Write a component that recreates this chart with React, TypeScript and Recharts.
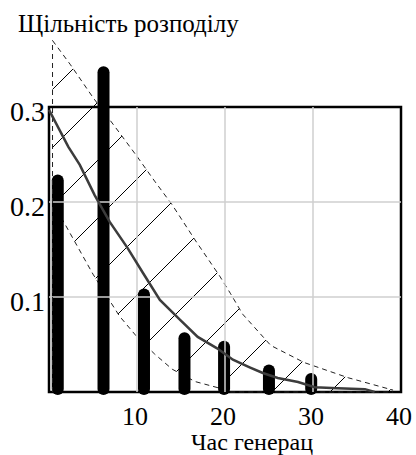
import React from "react";
import {
  ComposedChart,
  XAxis,
  YAxis,
  Bar,
  Line,
  Area,
  ReferenceLine,
  ReferenceArea,
} from "recharts";

const FONT = "Liberation Serif, DejaVu Serif, Times New Roman, serif";
const STICK_W = 12;

const xTicks = [10, 20, 30, 40];
const yTicks = [0.1, 0.2, 0.3];
const gridX = [10, 20, 30];
const gridY = [0.1, 0.2];

// histogram sticks
const barX = [1, 6.2, 10.8, 15.4, 19.9, 25, 29.8];
const barValues = [0.229, 0.343, 0.109, 0.063, 0.054, 0.029, 0.02];

// fitted density curve
const curveX = [0, 2.2, 3.5, 5.2, 6.9, 8.9, 10.7, 12.6, 14.9, 16.9, 19.1, 20.9, 22.8, 24.3, 26, 28.3, 30.2, 32.8, 35.9, 37];
const curveY = [0.297, 0.258, 0.239, 0.207, 0.179, 0.152, 0.125, 0.097, 0.076, 0.058, 0.046, 0.034, 0.026, 0.02, 0.0147, 0.0105, 0.005, 0.004, 0.003, 0];

// confidence band
const bandX = [0.4, 2.4, 5, 8, 10, 12, 14, 16.6, 19.4, 20.6, 22, 25.2, 29, 34, 39.1];
const bandHigh = [0.37, 0.345, 0.31, 0.273, 0.248, 0.222, 0.197, 0.16, 0.122, 0.104, 0.082, 0.049, 0.031, 0.015, 0.002];
const bandLow = [0.2, 0.167, 0.124, 0.08, 0.058, 0.04, 0.024, 0.011, 0.004, 0, 0, 0, 0, 0, 0];

const barRows = barX.map((x, i) => ({ x, v: barValues[i] }));
const curveRows = curveX.map((x, i) => ({ x, y: curveY[i] }));
const bandRows = bandX.map((x, i) => ({ x, range: [bandLow[i], bandHigh[i]] }));

// bar drawn as a thick stick with rounded ends, centred on its x
const Stick = (props: any) => {
  const { x, y, width, height } = props;
  if (height == null || height <= 0) return null;
  const cx = x + width / 2;
  return (
    <rect
      x={cx - STICK_W / 2}
      y={y}
      width={STICK_W}
      height={height + 3}
      rx={STICK_W / 2}
      ry={STICK_W / 2}
      fill="#000"
    />
  );
};

const YTick = (props: any) => {
  const { x, y, payload } = props;
  return (
    <text x={x} y={y + 4} dy="0.355em" textAnchor="end" fontSize={28} style={{ fontFamily: FONT }} fill="#000">
      {payload.value}
    </text>
  );
};

const XTick = (props: any) => {
  const { x, y, payload } = props;
  return (
    <text x={x - 2} y={y + 15.5} textAnchor="middle" fontSize={26} style={{ fontFamily: FONT }} fill="#000">
      {payload.value}
    </text>
  );
};

export default function App() {
  return (
    <div style={{ position: "absolute", left: 0, top: 0, width: 416, height: 455, background: "#fff" }}>
      <ComposedChart width={416} height={455} data={barRows} margin={{ top: 12, right: 15, bottom: 0, left: 0 }}>
        <defs>
          <pattern id="hatch" patternUnits="userSpaceOnUse" width={58} height={58} patternTransform="translate(26,0)">
            <path d="M0,58 L58,0 M-10,10 L10,-10 M48,68 L68,48" stroke="#000" strokeWidth={1} />
          </pattern>
        </defs>
        <XAxis
          type="number"
          dataKey="x"
          domain={[0, 40]}
          ticks={xTicks}
          axisLine={false}
          tickLine={false}
          tickSize={6}
          tickMargin={11}
          height={63}
          tick={<XTick />}
        />
        <YAxis
          type="number"
          domain={[0, 0.4]}
          ticks={yTicks}
          axisLine={false}
          tickLine={false}
          tickSize={4}
          tickMargin={0}
          width={49}
          tick={<YTick />}
        />
        {gridX.map((g) => (
          <ReferenceLine key={"gx" + g} segment={[{ x: g, y: 0 }, { x: g, y: 0.3 }]} stroke="#cfcfcf" strokeWidth={1.5} />
        ))}
        {gridY.map((g) => (
          <ReferenceLine key={"gy" + g} segment={[{ x: 0, y: g }, { x: 40, y: g }]} stroke="#cfcfcf" strokeWidth={1.5} />
        ))}
        <ReferenceArea x1={0} x2={40} y1={0} y2={0.3} fill="none" fillOpacity={0} stroke="#000" strokeWidth={2.5} />
        <Area
          data={bandRows}
          dataKey="range"
          type="linear"
          stroke="#222"
          strokeWidth={1}
          strokeDasharray="5 4"
          fill="url(#hatch)"
          fillOpacity={1}
          isAnimationActive={false}
          activeDot={false}
        />
        <ReferenceLine segment={[{ x: 0.4, y: 0 }, { x: 0.4, y: 0.37 }]} stroke="#222" strokeWidth={1} strokeDasharray="5 4" />
        <Line
          data={curveRows}
          dataKey="y"
          type="linear"
          stroke="#3c3c3c"
          strokeWidth={2.5}
          dot={false}
          activeDot={false}
          isAnimationActive={false}
        />
        <Bar dataKey="v" barSize={12} shape={<Stick />} isAnimationActive={false} />
      </ComposedChart>
      <svg width={416} height={455} style={{ position: "absolute", left: 0, top: 0, pointerEvents: "none" }}>
        <text x={18} y={32} fontSize={25} style={{ fontFamily: FONT }} fill="#000">
          Щільність розподілу
        </text>
        <text x={191} y={450} fontSize={24} style={{ fontFamily: FONT }} fill="#000">
          Час генерац
        </text>
      </svg>
    </div>
  );
}
